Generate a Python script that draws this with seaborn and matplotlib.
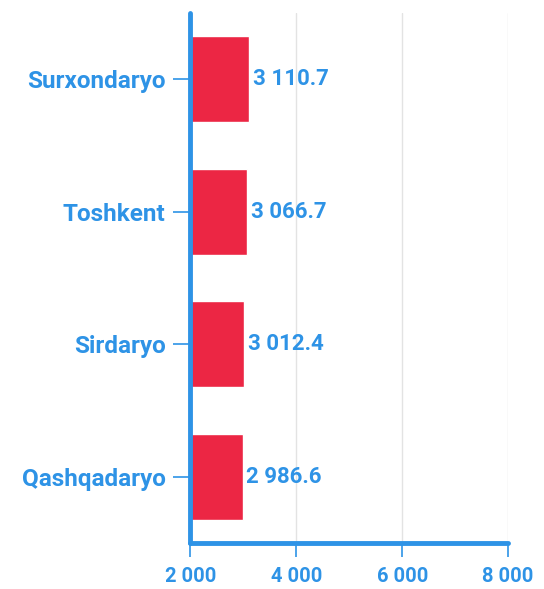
import pandas as pd
import matplotlib.pyplot as plt
import seaborn as sns

# data
regions = ["Surxondaryo", "Toshkent", "Sirdaryo", "Qashqadaryo"]
values = [3110.7, 3066.7, 3012.4, 2986.6]
x_ticks = [2000, 4000, 6000, 8000]

blue = "#2E93E6"
red = "#EC2644"

sns.set_theme(style="white")
plt.rcParams["font.family"] = ["Roboto", "DejaVu Sans"]
plt.rcParams["font.weight"] = "bold"

df = pd.DataFrame({"Region": regions, "Value": values})
base = 2000
df["Len"] = df["Value"] - base

fig, ax = plt.subplots(figsize=(5.44, 5.89), dpi=100)
fig.subplots_adjust(left=0.35, right=0.934, top=0.978, bottom=0.078)

sns.barplot(data=df, y="Region", x="Len", left=base, color=red, width=0.65,
            orient="h", ax=ax, saturation=1)

ax.set_xlim(base, 8000)
ax.set_ylim(3.5, -0.5)
ax.set_xticks(x_ticks)
ax.set_xticklabels([f"{t:,}".replace(",", " ") for t in x_ticks])
ax.set_xlabel("")
ax.set_ylabel("")

ax.grid(axis="x", color="#e3e3e3", linewidth=1)
ax.set_axisbelow(True)

for s in ["top", "right"]:
    ax.spines[s].set_visible(False)
for s in ["left", "bottom"]:
    ax.spines[s].set_color(blue)
    ax.spines[s].set_linewidth(3.5)
    ax.spines[s].set_capstyle("round")

ax.tick_params(axis="y", colors=blue, labelsize=17.5, length=12, width=1.2, pad=6, left=True)
ax.tick_params(axis="x", colors=blue, labelsize=14.5, length=10, width=1.2, pad=7, bottom=True)
for lab in ax.get_yticklabels() + ax.get_xticklabels():
    lab.set_fontweight("bold")

for i, v in enumerate(values):
    txt = f"{v:,.1f}".replace(",", " ")
    ax.text(v + 70, i, txt, va="center", ha="left", color=blue,
            fontsize=16, fontweight="bold")

fig.savefig("out.png", dpi=100)
